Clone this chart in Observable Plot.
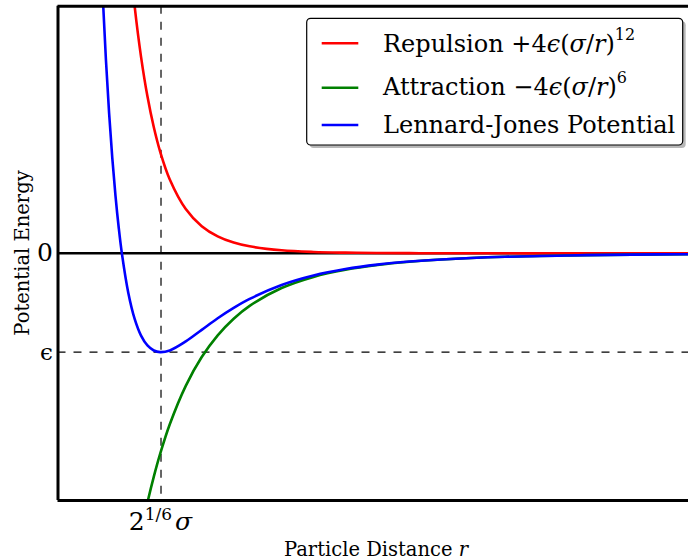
<!DOCTYPE html>
<html><head><meta charset="utf-8">
<script src="https://cdn.jsdelivr.net/npm/d3@7"></script>
<script src="https://cdn.jsdelivr.net/npm/@observablehq/plot@0.6"></script>
<style>body{margin:0;background:#fff}</style>
</head><body><div id="chart"></div>
<script>
// Distances (in units of sigma) and potential energies (in units of epsilon)
const r = [0.93, 0.94, 0.95, 0.96, 0.97, 0.98, 0.99, 1.00, 1.02, 1.04, 1.06, 1.08, 1.10, 1.12, 1.15, 1.20, 1.25, 1.30, 1.35, 1.40, 1.50, 1.60, 1.70, 1.80, 1.90, 2.00, 2.20, 2.40, 2.60, 2.80];
const repulsion = [9.556, 8.405, 7.403, 6.528, 5.765, 5.098, 4.513, 4.000, 3.154, 2.498, 1.988, 1.588, 1.275, 1.027, 0.748, 0.449, 0.275, 0.172, 0.109, 0.071, 0.031, 0.014, 0.007, 0.0035, 0.0018, 0.001, 0.0003, 0.0001, 0, 0];
const attraction = [-6.182, -5.798, -5.442, -5.110, -4.802, -4.516, -4.249, -4.000, -3.552, -3.161, -2.820, -2.521, -2.258, -2.026, -1.729, -1.340, -1.049, -0.829, -0.661, -0.531, -0.351, -0.238, -0.166, -0.118, -0.085, -0.0625, -0.035, -0.021, -0.013, -0.008];
const lennardJones = [3.373, 2.607, 1.961, 1.418, 0.963, 0.582, 0.264, 0, -0.398, -0.663, -0.832, -0.932, -0.983, -0.999, -0.982, -0.891, -0.774, -0.657, -0.552, -0.461, -0.320, -0.224, -0.159, -0.114, -0.083, -0.0615, -0.035, -0.021, -0.013, -0.008];

const seriesNames = ["Repulsion", "Attraction", "Lennard-Jones Potential"];
const seriesColors = ["red", "green", "blue"];
const yTicks = [0, -1];
const yTickLabels = ["0", "ϵ"];
const xTicks = [1.1225];
const xDomain = [0.8, 2.774];
const yDomain = [-2.5, 2.5];
const xLabel = "Particle Distance ";
const yLabel = "Potential Energy";

const rows = r.map((d, i) => ({r: d, rep: repulsion[i], att: attraction[i], lj: lennardJones[i]}));
const FONT = "DejaVu Serif";

const plot = Plot.plot({
  width: 688, height: 560,
  marginLeft: 57.5, marginRight: 0, marginTop: 5.7, marginBottom: 60,
  x: {domain: xDomain, axis: null},
  y: {domain: yDomain, axis: null},
  style: {fontFamily: FONT, background: "white", overflow: "visible"},
  marks: [
    Plot.ruleY([0], {stroke: "black", strokeWidth: 2.5}),
    Plot.ruleY([-1], {stroke: "black", strokeWidth: 1.2, strokeDasharray: "8,8"}),
    Plot.ruleX(xTicks, {stroke: "black", strokeWidth: 1.2, strokeDasharray: "8,8"}),
    Plot.line(rows, {x: "r", y: "rep", stroke: seriesColors[0], strokeWidth: 2.6, curve: "catmull-rom", clip: true}),
    Plot.line(rows, {x: "r", y: "att", stroke: seriesColors[1], strokeWidth: 2.6, curve: "catmull-rom", clip: true}),
    Plot.line(rows, {x: "r", y: "lj", stroke: seriesColors[2], strokeWidth: 2.6, curve: "catmull-rom", clip: true}),
    Plot.ruleX([xDomain[0]], {stroke: "black", strokeWidth: 3}),
    Plot.ruleY([yDomain[0]], {stroke: "black", strokeWidth: 3}),
    Plot.ruleY([yDomain[1]], {stroke: "black", strokeWidth: 3}),
    Plot.text(yTicks, {x: xDomain[0], y: d => d, text: (d, i) => yTickLabels[i], textAnchor: "end", dx: -5,
      fontSize: (d, i) => i === 0 ? 25 : 23, fontStyle: (d, i) => i === 0 ? "normal" : "italic", fill: "black"})
  ]
});
document.getElementById("chart").appendChild(plot);

const svg = d3.select(plot);
const xs = plot.scale("x");

// x tick label 2^{1/6} sigma
const xt = svg.append("text").attr("x", xs.apply(xTicks[0])).attr("y", 530)
  .attr("text-anchor", "middle").attr("font-family", FONT).attr("font-size", 25).attr("fill", "black");
xt.append("tspan").text("2");
xt.append("tspan").attr("dy", -10).attr("font-size", 17).text("1/6");
xt.append("tspan").attr("dy", 10).attr("dx", 3).attr("font-style", "italic").text("σ");

// axis labels
const xl = svg.append("text").attr("x", 376).attr("y", 555.5).attr("text-anchor", "middle")
  .attr("font-family", FONT).attr("font-size", 19.5).attr("fill", "black");
xl.append("tspan").text(xLabel);
xl.append("tspan").attr("font-style", "italic").text("r");

svg.append("text").attr("transform", "translate(29,253) rotate(-90)").attr("text-anchor", "middle")
  .attr("font-family", FONT).attr("font-size", 19.5).attr("fill", "black").text(yLabel);

// legend
const lg = svg.append("g");
const bx = 306.7, by = 18.3, bw = 376, bh = 126.7;
lg.append("rect").attr("x", bx + 3).attr("y", by + 3).attr("width", bw).attr("height", bh).attr("rx", 4)
  .attr("fill", "#888").attr("opacity", 0.6);
lg.append("rect").attr("x", bx).attr("y", by).attr("width", bw).attr("height", bh).attr("rx", 4)
  .attr("fill", "white").attr("stroke", "black").attr("stroke-width", 1.2);
const baselines = [52, 95, 133];
const lineYs = [43.3, 87.7, 125];
const maths = [
  [["+4", "n"], ["ϵ", "i"], ["(", "n"], ["σ", "i"], ["/", "n"], ["r", "i"], [")", "n"], ["12", "s"]],
  [["−4", "n"], ["ϵ", "i"], ["(", "n"], ["σ", "i"], ["/", "n"], ["r", "i"], [")", "n"], ["6", "s"]],
  []
];
seriesNames.forEach((name, i) => {
  lg.append("line").attr("x1", 321.7).attr("x2", 358.3).attr("y1", lineYs[i]).attr("y2", lineYs[i])
    .attr("stroke", seriesColors[i]).attr("stroke-width", 2.6);
  const t = lg.append("text").attr("x", 383).attr("y", baselines[i]).attr("font-family", FONT)
    .attr("text-anchor", "start").attr("font-size", 24).attr("fill", "black");
  t.append("tspan").text(name + (maths[i].length ? " " : ""));
  maths[i].forEach(([s, k]) => {
    const sp = t.append("tspan").text(s);
    if (k === "i") sp.attr("font-style", "italic");
    if (k === "s") sp.attr("font-size", 16).attr("dy", -12);
  });
});
</script>
</body></html>
